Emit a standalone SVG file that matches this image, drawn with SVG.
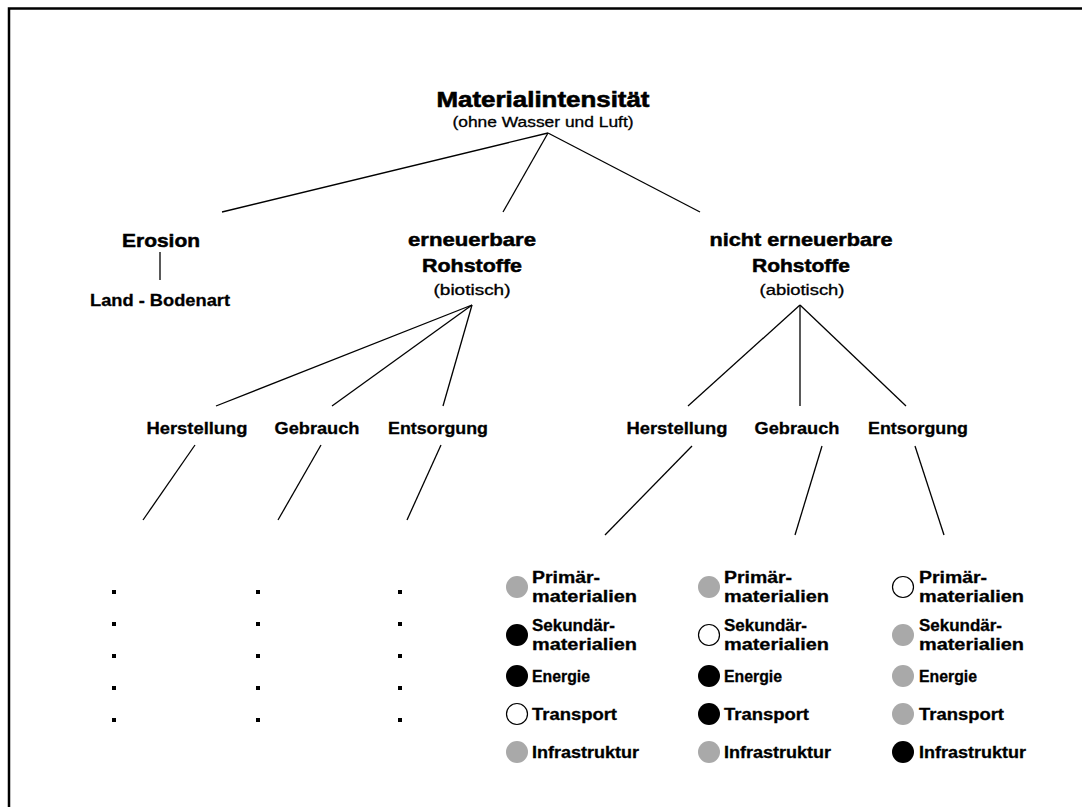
<svg xmlns="http://www.w3.org/2000/svg" width="1082" height="807" viewBox="0 0 1082 807">
  <style>
    text { font-family: "Liberation Sans", Arial, sans-serif; fill: #000; }
    .title { font-size: 22px; font-weight: bold; text-anchor: middle; stroke: #000; stroke-width: 0.6; }
    .sub { font-size: 14px; text-anchor: middle; stroke: #000; stroke-width: 0.3; }
    .head { font-size: 19px; font-weight: bold; text-anchor: middle; stroke: #000; stroke-width: 0.5; }
    .step { font-size: 17px; font-weight: bold; text-anchor: middle; stroke: #000; stroke-width: 0.3; }
    .item { font-size: 16px; font-weight: bold; stroke: #000; stroke-width: 0.3; }
    .link { stroke: #000; stroke-width: 1.3; fill: none; }
    .frame { stroke: #000; stroke-width: 2.5; fill: none; }
    .grey { fill: #a9a9a9; }
    .black { fill: #000; }
    .white { fill: #fff; stroke: #000; stroke-width: 1.2; }
    .dot { fill: #000; }
  </style>

  <!-- outer frame (top and left edges) -->
  <path class="frame" d="M9,807 V8.5 H1082"/>

  <!-- connectors -->
  <g id="connectors">
    <line class="link" x1="548" y1="133" x2="222" y2="212"/>
    <line class="link" x1="548" y1="133" x2="503" y2="212"/>
    <line class="link" x1="548" y1="133" x2="700" y2="212"/>
    <line class="link" x1="160" y1="252" x2="160" y2="280"/>
    <line class="link" x1="472" y1="305" x2="216" y2="406"/>
    <line class="link" x1="472" y1="305" x2="332" y2="406"/>
    <line class="link" x1="472" y1="305" x2="443" y2="406"/>
    <line class="link" x1="195" y1="445" x2="143" y2="520"/>
    <line class="link" x1="321" y1="445" x2="278" y2="520"/>
    <line class="link" x1="441" y1="445" x2="407" y2="520"/>
    <line class="link" x1="800" y1="305" x2="688" y2="406"/>
    <line class="link" x1="800" y1="305" x2="800" y2="406"/>
    <line class="link" x1="800" y1="305" x2="906" y2="406"/>
    <line class="link" x1="692" y1="446" x2="605" y2="535"/>
    <line class="link" x1="822" y1="446" x2="795" y2="535"/>
    <line class="link" x1="915" y1="446" x2="944" y2="535"/>
  </g>

  <g id="root">
    <text class="title" x="543" y="107" textLength="213" lengthAdjust="spacingAndGlyphs">Materialintensität</text>
    <text class="sub" x="543" y="127" textLength="181" lengthAdjust="spacingAndGlyphs">(ohne Wasser und Luft)</text>
  </g>

  <g id="erosion">
    <text class="head" x="161" y="247" textLength="78" lengthAdjust="spacingAndGlyphs">Erosion</text>
  </g>
  <g id="land">
    <text class="step" x="160" y="306" textLength="140" lengthAdjust="spacingAndGlyphs">Land - Bodenart</text>
  </g>

  <g id="biotic">
    <text class="head" x="472" y="246" textLength="128" lengthAdjust="spacingAndGlyphs">erneuerbare</text>
    <text class="head" x="472" y="272" textLength="100" lengthAdjust="spacingAndGlyphs">Rohstoffe</text>
    <text class="sub" x="472" y="295" textLength="77" lengthAdjust="spacingAndGlyphs">(biotisch)</text>
  </g>

  <g id="abiotic">
    <text class="head" x="801" y="246" textLength="183" lengthAdjust="spacingAndGlyphs">nicht erneuerbare</text>
    <text class="head" x="801" y="272" textLength="98" lengthAdjust="spacingAndGlyphs">Rohstoffe</text>
    <text class="sub" x="802" y="295" textLength="85" lengthAdjust="spacingAndGlyphs">(abiotisch)</text>
  </g>

  <g id="bio-herstellung"><text class="step" x="197" y="434" textLength="101" lengthAdjust="spacingAndGlyphs">Herstellung</text></g>
  <g id="bio-gebrauch"><text class="step" x="317" y="434" textLength="85" lengthAdjust="spacingAndGlyphs">Gebrauch</text></g>
  <g id="bio-entsorgung"><text class="step" x="438" y="434" textLength="100" lengthAdjust="spacingAndGlyphs">Entsorgung</text></g>

  <g id="abio-herstellung"><text class="step" x="677" y="434" textLength="101" lengthAdjust="spacingAndGlyphs">Herstellung</text></g>
  <g id="abio-gebrauch"><text class="step" x="797" y="434" textLength="85" lengthAdjust="spacingAndGlyphs">Gebrauch</text></g>
  <g id="abio-entsorgung"><text class="step" x="918" y="434" textLength="100" lengthAdjust="spacingAndGlyphs">Entsorgung</text></g>

  <!-- placeholder dots under the biotic branches -->
  <g id="bio-dots">
    <rect class="dot" x="112" y="590" width="4" height="4"/>
    <rect class="dot" x="112" y="622" width="4" height="4"/>
    <rect class="dot" x="112" y="654" width="4" height="4"/>
    <rect class="dot" x="112" y="686" width="4" height="4"/>
    <rect class="dot" x="112" y="718" width="4" height="4"/>
    <rect class="dot" x="256" y="590" width="4" height="4"/>
    <rect class="dot" x="256" y="622" width="4" height="4"/>
    <rect class="dot" x="256" y="654" width="4" height="4"/>
    <rect class="dot" x="256" y="686" width="4" height="4"/>
    <rect class="dot" x="256" y="718" width="4" height="4"/>
    <rect class="dot" x="398" y="590" width="4" height="4"/>
    <rect class="dot" x="398" y="622" width="4" height="4"/>
    <rect class="dot" x="398" y="654" width="4" height="4"/>
    <rect class="dot" x="398" y="686" width="4" height="4"/>
    <rect class="dot" x="398" y="718" width="4" height="4"/>
  </g>

  <!-- legend column: Herstellung -->
  <g id="col-herstellung">
    <circle class="grey" cx="517" cy="587" r="11"/>
    <text class="item" x="532" y="583" textLength="68" lengthAdjust="spacingAndGlyphs">Primär-</text>
    <text class="item" x="532" y="602" textLength="105" lengthAdjust="spacingAndGlyphs">materialien</text>
    <circle class="black" cx="517" cy="635" r="11"/>
    <text class="item" x="532" y="631" textLength="83" lengthAdjust="spacingAndGlyphs">Sekundär-</text>
    <text class="item" x="532" y="650" textLength="105" lengthAdjust="spacingAndGlyphs">materialien</text>
    <circle class="black" cx="517" cy="676" r="11"/>
    <text class="item" x="532" y="682" textLength="58" lengthAdjust="spacingAndGlyphs">Energie</text>
    <circle class="white" cx="517" cy="714" r="10.5"/>
    <text class="item" x="532" y="720" textLength="85" lengthAdjust="spacingAndGlyphs">Transport</text>
    <circle class="grey" cx="517" cy="752" r="11"/>
    <text class="item" x="532" y="758" textLength="107" lengthAdjust="spacingAndGlyphs">Infrastruktur</text>
  </g>

  <!-- legend column: Gebrauch -->
  <g id="col-gebrauch">
    <circle class="grey" cx="709" cy="587" r="11"/>
    <text class="item" x="724" y="583" textLength="68" lengthAdjust="spacingAndGlyphs">Primär-</text>
    <text class="item" x="724" y="602" textLength="105" lengthAdjust="spacingAndGlyphs">materialien</text>
    <circle class="white" cx="709" cy="635" r="10.5"/>
    <text class="item" x="724" y="631" textLength="83" lengthAdjust="spacingAndGlyphs">Sekundär-</text>
    <text class="item" x="724" y="650" textLength="105" lengthAdjust="spacingAndGlyphs">materialien</text>
    <circle class="black" cx="709" cy="676" r="11"/>
    <text class="item" x="724" y="682" textLength="58" lengthAdjust="spacingAndGlyphs">Energie</text>
    <circle class="black" cx="709" cy="714" r="11"/>
    <text class="item" x="724" y="720" textLength="85" lengthAdjust="spacingAndGlyphs">Transport</text>
    <circle class="grey" cx="709" cy="752" r="11"/>
    <text class="item" x="724" y="758" textLength="107" lengthAdjust="spacingAndGlyphs">Infrastruktur</text>
  </g>

  <!-- legend column: Entsorgung -->
  <g id="col-entsorgung">
    <circle class="white" cx="903" cy="587" r="10.5"/>
    <text class="item" x="919" y="583" textLength="68" lengthAdjust="spacingAndGlyphs">Primär-</text>
    <text class="item" x="919" y="602" textLength="105" lengthAdjust="spacingAndGlyphs">materialien</text>
    <circle class="grey" cx="903" cy="635" r="11"/>
    <text class="item" x="919" y="631" textLength="83" lengthAdjust="spacingAndGlyphs">Sekundär-</text>
    <text class="item" x="919" y="650" textLength="105" lengthAdjust="spacingAndGlyphs">materialien</text>
    <circle class="grey" cx="903" cy="676" r="11"/>
    <text class="item" x="919" y="682" textLength="58" lengthAdjust="spacingAndGlyphs">Energie</text>
    <circle class="grey" cx="903" cy="714" r="11"/>
    <text class="item" x="919" y="720" textLength="85" lengthAdjust="spacingAndGlyphs">Transport</text>
    <circle class="black" cx="903" cy="752" r="11"/>
    <text class="item" x="919" y="758" textLength="107" lengthAdjust="spacingAndGlyphs">Infrastruktur</text>
  </g>
</svg>
